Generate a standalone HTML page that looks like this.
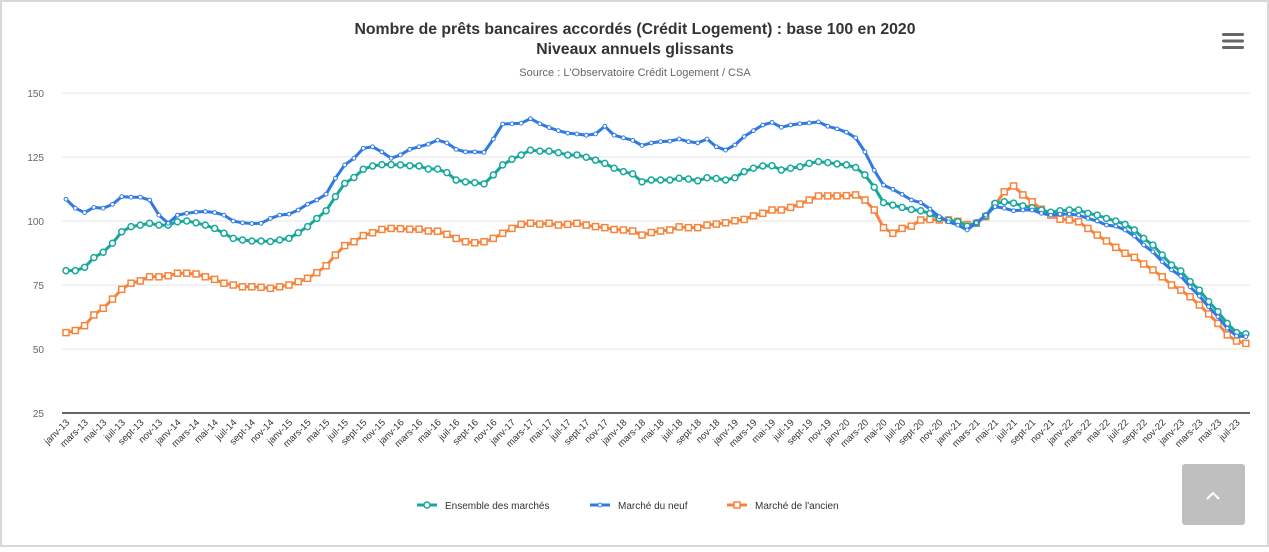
<!DOCTYPE html>
<html><head><meta charset="utf-8">
<style>
html,body{margin:0;padding:0;background:#fff;}
body{width:1269px;height:547px;overflow:hidden;font-family:"Liberation Sans",Arial,sans-serif;}
</style></head>
<body>
<svg id="chart" width="1269" height="547" xmlns="http://www.w3.org/2000/svg" font-family="Liberation Sans, Arial, sans-serif">
<rect x="1" y="1" width="1267" height="545" fill="#fff" stroke="#d8d8d8" stroke-width="2"/>
<text x="635" y="34" text-anchor="middle" font-size="15.8" font-weight="bold" fill="#333">Nombre de prêts bancaires accordés (Crédit Logement) : base 100 en 2020</text>
<text x="635" y="54" text-anchor="middle" font-size="15.8" font-weight="bold" fill="#333">Niveaux annuels glissants</text>
<text x="635" y="76" text-anchor="middle" font-size="11" fill="#666">Source : L'Observatoire Crédit Logement / CSA</text>
<g>
<rect x="1221" y="32" width="24" height="18" fill="#fff"/>
<rect x="1222" y="33" width="22" height="3" rx="1.5" fill="#666"/>
<rect x="1222" y="39.5" width="22" height="3" rx="1.5" fill="#666"/>
<rect x="1222" y="46" width="22" height="3" rx="1.5" fill="#666"/>
</g>
<g id="grid"></g>
<g id="xlabels"></g>
<g id="series"></g>
<g>
<g>
<line x1="417" y1="505" x2="437" y2="505" stroke="#17a89a" stroke-width="3"/><circle cx="427" cy="505" r="3" fill="#fff" stroke="#17a89a" stroke-width="1.5"/>
<text x="445" y="509" font-size="10" fill="#333">Ensemble des marchés</text></g>
<g>
<line x1="590" y1="505" x2="610" y2="505" stroke="#2f7ae5" stroke-width="3"/><circle cx="600" cy="505" r="2" fill="#fff" stroke="#2f7ae5" stroke-width="1"/>
<text x="618" y="509" font-size="10" fill="#333">Marché du neuf</text></g>
<g>
<line x1="727" y1="505" x2="747" y2="505" stroke="#f7843c" stroke-width="3"/><rect x="734" y="502" width="6" height="6" fill="#fff" stroke="#f7843c" stroke-width="1.5"/>
<text x="755" y="509" font-size="10" fill="#333">Marché de l'ancien</text></g>
</g>
<g>
<rect x="1182" y="464" width="63" height="61" rx="3" fill="#bfbfbf"/>
<path d="M1207 499 L1213 493 L1219 499" fill="none" stroke="#fff" stroke-width="2"/>
</g>
</svg>
<script>
const months = ["janv","févr","mars","avr","mai","juin","juil","août","sept","oct","nov","déc"];
const yTicks = [25,50,75,100,125,150];
const ensemble = [80.6,80.6,81.9,85.7,87.8,91.3,95.8,97.8,98.4,99.1,98.4,98.4,
99.7,100,99.3,98.4,97.1,95.2,93.2,92.6,92.2,92.2,92,92.6,
93.2,95.4,97.8,101,104,109.5,114.7,117,120.2,121.5,122,122,
121.9,121.6,121.5,120.3,120.3,118.9,116,115.3,115,114.5,118,121.9,
124.1,125.8,127.7,127.3,127.3,126.7,125.8,125.8,124.9,123.8,122.5,120.6,
119.3,118.4,115.3,116,116,116,116.7,116.4,115.7,116.9,116.6,116,
116.9,119.3,120.6,121.5,121.6,119.9,120.6,121.2,122.5,123.2,122.8,122.3,
121.9,120.9,118,113.2,107.2,106.2,105.3,104.5,104,103,101,100.3,
99.7,98,99.3,102,106.9,107.5,107,105.9,105.2,104.3,103.4,104,
104.3,104.3,103,102.3,101,100,98.7,96.5,93.2,90.6,86.7,82.8,
80.5,76.3,73,68.5,64.6,60,56.4,55.9];
const neuf = [108.5,105,103.3,105.3,105,106.5,109.5,109.3,109.3,108.2,102.3,99.1,
102.3,103,103.5,103.7,103.3,102.3,100,99.3,99,99.1,101,102.3,
102.7,104.3,106.6,108.2,110.5,116.7,121.9,124.5,128.4,129,127,124.5,
125.8,128,129,130,131.6,130.5,128,127,127,126.8,132,137.9,
138,138.2,140,138,136.5,135.3,134.3,134,133.5,134,137,133.5,
132.5,131.5,129.5,130.5,131,131.2,132,131,130.5,132,129,127.7,
129.7,133,135.3,137.5,138.5,136.6,137.5,138,138.3,138.7,137,136,
134.7,132.5,127,119.8,114,112.4,110.4,108.2,107.2,104.7,101.7,99.7,
98.4,96.5,99.3,102.3,105.6,105,104,104.3,104.3,103,102.3,102.7,
102.7,102.3,101,100,98.4,98,96.5,94.1,90.6,88,84.1,80.9,
78.5,74.3,70.7,66.5,62.6,58.1,55.1,54.8];
const ancien = [56.4,57.2,59.1,63.3,65.9,69.5,73.3,75.7,76.6,78.2,78.2,78.6,
79.6,79.6,79.3,78.2,77.2,75.7,75,74.3,74.3,74.1,73.7,74.3,
75,76.3,77.6,79.8,82.5,86.7,90.4,91.9,94.3,95.4,96.7,97.1,
97,96.8,96.8,96.1,96,94.8,93.2,91.9,91.5,91.9,93.2,95.2,
97.1,98.7,99.1,98.8,99.1,98.4,98.7,99.1,98.4,97.8,97.4,96.7,
96.5,96.1,94.5,95.5,96.1,96.5,97.7,97.4,97.4,98.4,98.8,99.3,
100.1,100.6,102,103,104.3,104.3,105.3,106.6,108.2,109.8,109.8,109.8,
109.9,110.2,108.2,104.3,97.4,95.2,97.1,98,100.4,100.6,100.4,100.4,
99.9,98.6,99.1,101.7,106.3,111.4,113.7,110.2,107.5,104.6,102.3,100.7,
100.4,99.7,97.1,94.5,92.2,89.7,87.4,85.8,83.2,80.9,78.2,75,
73,70.4,67.2,63.7,60,55.5,53.1,52.2];

const NS="http://www.w3.org/2000/svg";
const X0=66, DX=9.29;
function xPos(i){return X0+DX*i;}
function yPos(v){return 221-(v-100)*2.56;}
function el(tag,attrs,parent){const e=document.createElementNS(NS,tag);for(const k in attrs)e.setAttribute(k,attrs[k]);parent.appendChild(e);return e;}

const grid=document.getElementById('grid');
yTicks.forEach(t=>{
  const y=yPos(t);
  const l=el('line',{x1:62,x2:1250,y1:y,y2:y,stroke:t===25?'#333':'#e6e6e6','stroke-width':t===25?1.5:1},grid);
  
  
  const tx=el('text',{x:44,y:y+4,'text-anchor':'end','font-size':10,fill:'#666'},grid);
  tx.textContent=t;
  
  
});

const xl=document.getElementById('xlabels');
const n=ensemble.length;
for(let i=0;i<n;i+=2){
  const lab=months[i%12]+"-"+String(13+Math.floor(i/12));
  const x=xPos(i)+4, y=423;
  const t=el('text',{x:x,y:y,'text-anchor':'end','font-size':9.5,fill:'#333',transform:`rotate(-45 ${x} ${y})`},xl);
  t.textContent=lab;
  
  
}

const sg=document.getElementById('series');
function drawSeries(data,color,marker,name){
  const g=el('g',{},sg);
  
  
  const pts=data.map((v,i)=>xPos(i).toFixed(2)+","+yPos(v).toFixed(2)).join(" ");
  const pl=el('polyline',{points:pts,fill:'none',stroke:color,'stroke-width':3,'stroke-linejoin':'round'},g);
  
  
  data.forEach((v,i)=>{
    const x=xPos(i),y=yPos(v);
    let m;
    if(marker==='circle') m=el('circle',{cx:x,cy:y,r:3,fill:'#fff',stroke:color,'stroke-width':1.5},g);
    else if(marker==='dot') m=el('circle',{cx:x,cy:y,r:1.9,fill:'#fff',stroke:color,'stroke-width':1},g);
    else m=el('rect',{x:x-3,y:y-3,width:6,height:6,fill:'#fff',stroke:color,'stroke-width':1.5},g);
    
    
  });
}
drawSeries(ancien,'#f7843c','square','ancien');
drawSeries(ensemble,'#17a89a','circle','ensemble');
drawSeries(neuf,'#2f7ae5','dot','neuf');
</script>
</body></html>
